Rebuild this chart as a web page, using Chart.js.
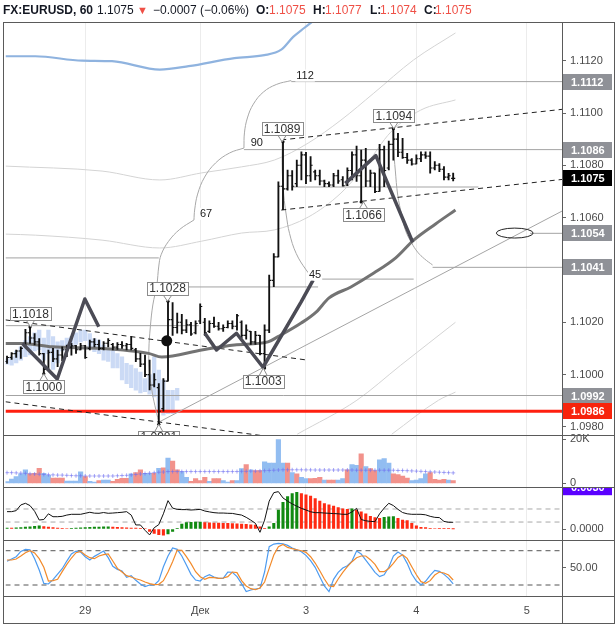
<!DOCTYPE html>
<html><head><meta charset="utf-8">
<script src="https://cdn.jsdelivr.net/npm/chart.js@4.4.1/dist/chart.umd.min.js"></script>
<style>
html,body{margin:0;padding:0;background:#fff;}
#wrap{position:relative;width:616px;height:627px;overflow:hidden;}
#c{position:absolute;left:0;top:0;}
#hdr{position:absolute;left:0;top:0;height:22px;width:616px;font:12px "Liberation Sans",Arial,sans-serif;color:#131722;}
#hdr span{position:absolute;top:3px;line-height:14px;white-space:nowrap;}
.b{font-weight:bold;}
.r{color:#ef5046;}
</style></head><body>
<div id="wrap"><canvas id="c" width="616" height="627"></canvas>
<div id="hdr">
<span class="b" style="left:3px">FX:EURUSD, 60</span>
<span style="left:97px">1.1075</span>
<span class="r" style="left:137px;font-size:11px">▼</span>
<span style="left:153px">−0.0007 (−0.06%)</span>
<span class="b" style="left:256px">O:</span><span class="r" style="left:269px">1.1075</span>
<span class="b" style="left:313px">H:</span><span class="r" style="left:325px">1.1077</span>
<span class="b" style="left:370px">L:</span><span class="r" style="left:380px">1.1074</span>
<span class="b" style="left:424px">C:</span><span class="r" style="left:435px">1.1075</span>
</div></div>
<script>
// ---------- DATA ----------
const TICK_POS = [17, 42, 65, 89, 113];
const TICK_LABELS = ['29', 'Дек', '3', '4', '5'];
const PRICE_TICKS = [1.1120, 1.1100, 1.1080, 1.1060, 1.1020, 1.1000, 1.0980];
const VOL_TICKS = [0, 20000];
const MACD_TICKS = [0];
const STOCH_TICKS = [50];

const OPEN = [1.10050,1.10065,1.10080,1.10090,1.10110,1.10160,1.10140,1.10125,1.10080,1.10025,
1.10085,1.10060,1.10075,1.10095,1.10105,1.10110,1.10095,1.10110,1.10100,1.10125,
1.10115,1.10100,1.10120,1.10115,1.10105,1.10115,1.10110,1.10115,1.10095,1.10060,
1.10040,1.10000,1.09960,1.09950,1.09870,1.09975,1.10210,1.10180,1.10200,1.10170,
1.10190,1.10160,1.10205,1.10200,1.10165,1.10195,1.10185,1.10175,1.10180,1.10195,
1.10185,1.10200,1.10150,1.10165,1.10125,1.10150,1.10080,1.10170,1.10360,1.10450,
1.10720,1.10710,1.10760,1.10730,1.10800,1.10840,1.10760,1.10775,1.10760,1.10740,
1.10730,1.10725,1.10760,1.10745,1.10725,1.10780,1.10840,1.10760,1.10820,1.10740,
1.10770,1.10700,1.10860,1.10790,1.10880,1.10900,1.10850,1.10830,1.10820,1.10805,
1.10825,1.10840,1.10835,1.10790,1.10800,1.10785,1.10755,1.10750];
const HIGH = [1.10071,1.10084,1.10094,1.10106,1.10173,1.10182,1.10157,1.10138,1.10081,1.10094,
1.10100,1.10094,1.10106,1.10113,1.10119,1.10112,1.10119,1.10112,1.10132,1.10138,
1.10132,1.10126,1.10138,1.10119,1.10122,1.10126,1.10119,1.10145,1.10100,1.10081,
1.10075,1.10055,1.10004,1.09966,1.09985,1.10280,1.10275,1.10235,1.10230,1.10210,
1.10200,1.10205,1.10270,1.10215,1.10205,1.10220,1.10200,1.10190,1.10205,1.10205,
1.10230,1.10205,1.10190,1.10165,1.10165,1.10150,1.10190,1.10380,1.10463,1.10737,
1.10890,1.10782,1.10780,1.10820,1.10852,1.10850,1.10833,1.10782,1.10782,1.10744,
1.10737,1.10769,1.10782,1.10757,1.10790,1.10852,1.10874,1.10858,1.10865,1.10782,
1.10770,1.10880,1.10874,1.10893,1.10940,1.10922,1.10903,1.10846,1.10826,1.10840,
1.10852,1.10852,1.10852,1.10814,1.10807,1.10795,1.10769,1.10770];
const LOW = [1.10043,1.10058,1.10066,1.10062,1.10106,1.10119,1.10113,1.10074,1.10003,1.10020,
1.10049,1.10030,1.10053,1.10068,1.10074,1.10081,1.10094,1.10062,1.10094,1.10106,
1.10094,1.10094,1.10106,1.10094,1.10096,1.10100,1.10094,1.10094,1.10049,1.10030,
1.09992,1.09941,1.09953,1.09810,1.09860,1.09975,1.10150,1.10158,1.10155,1.10160,
1.10150,1.10155,1.10195,1.10150,1.10160,1.10180,1.10170,1.10165,1.10178,1.10175,
1.10170,1.10140,1.10135,1.10115,1.10115,1.10075,1.10025,1.10160,1.10336,1.10450,
1.10630,1.10705,1.10705,1.10718,1.10744,1.10730,1.10738,1.10744,1.10725,1.10718,
1.10718,1.10718,1.10731,1.10720,1.10722,1.10744,1.10738,1.10660,1.10718,1.10718,
1.10695,1.10700,1.10718,1.10782,1.10820,1.10833,1.10826,1.10807,1.10801,1.10805,
1.10814,1.10826,1.10770,1.10782,1.10776,1.10744,1.10744,1.10740];
const CLOSE = [1.10065,1.10080,1.10090,1.10100,1.10160,1.10140,1.10125,1.10080,1.10020,1.10085,
1.10060,1.10075,1.10095,1.10105,1.10110,1.10095,1.10110,1.10065,1.10125,1.10115,
1.10100,1.10120,1.10130,1.10105,1.10115,1.10110,1.10115,1.10100,1.10060,1.10040,
1.10000,1.09960,1.09980,1.09860,1.09975,1.10210,1.10180,1.10200,1.10170,1.10190,
1.10155,1.10195,1.10260,1.10160,1.10195,1.10185,1.10175,1.10180,1.10195,1.10185,
1.10225,1.10150,1.10170,1.10125,1.10150,1.10080,1.10170,1.10360,1.10450,1.10720,
1.10710,1.10760,1.10720,1.10800,1.10840,1.10760,1.10800,1.10760,1.10740,1.10730,
1.10725,1.10760,1.10740,1.10722,1.10780,1.10840,1.10760,1.10820,1.10740,1.10770,
1.10700,1.10860,1.10780,1.10880,1.10900,1.10850,1.10830,1.10820,1.10805,1.10825,
1.10840,1.10835,1.10790,1.10800,1.10785,1.10755,1.10760,1.10750];

const GHOST_LOW = [1.10040,1.10036,1.10045,1.10055,1.10068,1.10075,1.10090,1.10095,1.10055,1.10080,
1.10020,1.10045,1.10090,1.10100,1.10100,1.10115,1.10125,1.10130,1.10105,1.10088,
1.10080,1.10055,1.10050,1.10025,1.10025,1.09980,1.09965,1.09950,1.09940,1.09930,
1.09935,1.09925,1.09915,1.09858,1.09845,1.09851,1.09851,1.09902];
const GHOST_HIGH = [1.10060,1.10068,1.10090,1.10106,1.10130,1.10145,1.10160,1.10170,1.10140,1.10170,
1.10145,1.10125,1.10130,1.10140,1.10145,1.10160,1.10170,1.10170,1.10157,1.10138,
1.10132,1.10113,1.10100,1.10094,1.10080,1.10068,1.10043,1.10036,1.10023,1.10010,
1.09985,1.10000,1.10068,1.10017,1.09979,1.09940,1.09940,1.09947];

const VOLUME = [730,1950,3000,4230,6050,4230,4550,6800,4550,3640,
2410,2410,2410,1050,1050,1050,5140,3000,900,590,
1200,1500,1500,900,1800,2270,2270,4230,4820,6050,
4550,4550,4550,6800,6950,11360,10000,6050,5300,2700,
900,2100,1200,2700,900,2100,2100,1200,590,1200,
1200,6650,8450,6050,5730,5730,9700,9100,9100,19700,
9100,9100,4820,4230,2700,2100,2100,2270,2700,1500,
1500,1500,1500,2100,6050,8450,8150,13300,7550,6650,
5730,10600,11200,9100,4230,3900,3300,2410,1200,1500,
2100,4230,4820,1800,1500,1800,1500,1200];
const VOL_DIR = ('uuuuuddduu' + 'ddduuuuduu' + 'duuddddudd' + 'uudududduu' + 'ddddudduud' +
  'uududduuuu' + 'ududuudddu' + 'dduuduudud' + 'duuudddduu' + 'uuddddud').split('');
const VOL_MA = [4800,4800,4700,4600,4500,4300,4200,4100,4000,3900,
3800,3700,3700,3600,3500,3400,3400,3300,3300,3300,
3300,3300,3300,3300,3400,3500,3600,3800,4000,4200,
4400,4600,4800,5000,5100,5300,5300,5300,5300,5300,
5300,5300,5300,5300,5300,5300,5300,5300,5300,5300,
5300,5400,5400,5500,5500,5600,5700,5800,5900,6000,
6100,6100,6100,6100,6100,6050,6050,6000,6000,6000,
6000,6000,6000,6000,6000,6000,5900,5900,5900,5900,
5900,5900,5900,5900,5900,5800,5800,5700,5600,5500,
5400,5300,5200,5100,5000,4900,4800,4700];

// oscillator panel, units of 0.0001
const HIST = [0.8,0.8,1.0,1.2,1.5,1.8,2.2,2.6,2.0,1.6,
1.2,0.8,0.5,0.4,0.6,0.8,1.0,1.2,1.4,1.5,
1.6,1.7,1.8,1.5,1.3,1.1,0.9,0.8,0.7,0.6,
0.4,-2.0,-3.5,-4.5,-4.8,-3.8,-2.0,0.5,3.9,5.0,
5.3,5.4,5.5,5.0,4.8,4.7,4.6,4.5,4.4,4.2,
4.0,3.8,3.6,3.3,3.0,1.8,0.5,1.8,4.5,15,
21,25.5,28,29,28,27,26,24,22,20,
19,18,17,16,15.5,16,15,13.5,12,10,
9,8.4,9.2,9.7,9.8,8.4,7.1,6.6,4.5,2.6,
1.3,1.2,0.5,0.4,0.3,0.2,0.2,0.1];
const OSC_LINE = [13.7,13.7,14.5,19.0,20.3,18.5,14.0,7.1,7.5,12.0,
9.7,9.7,10.0,11.0,11.6,11.6,11.6,12.4,13.2,12.5,
12.4,13.0,12.4,12.6,12.9,13.2,13.7,11.0,3.2,3.2,
-1.0,-4.7,1.0,3.5,12.0,22.4,16.5,15.5,15.3,15.3,
15.0,15.2,15.5,14.2,13.5,12.9,12.6,12.6,12.4,12.3,
11.6,11.0,9.2,7.0,4.5,-2.6,7.0,22.0,28.7,29.5,
24.5,22.0,19.8,18.0,16.3,15.0,13.6,12.9,12.9,12.6,
12.4,12.2,12.0,11.6,11.6,13.5,16.3,7.5,6.5,6.0,
5.8,12.0,16.5,20.3,18.5,15.5,13.0,12.0,11.6,11.6,
11.6,11.2,10.0,9.2,9.0,6.0,5.3,5.3];
const OSC_LEVELS = [15.8, 5.5];
const OSC_TAG = [33, '0.0030'];

const STOCH_K = [61.4,65.4,69.5,78.8,82.3,81.7,66.0,46.2,22.9,21.8,
29.3,39.2,48.5,61.9,74.2,79.4,77.7,69.5,63.7,70.1,
74.8,79.4,67.8,52.6,47.4,44.5,33.4,36.3,28.2,21.7,
17.1,20.0,20.0,27.6,52.0,70.7,84.7,82.3,70.7,55.0,
38.6,28.7,27.0,34.6,38.0,34.0,31.6,31.6,42.7,42.1,
34.6,22.3,8.4,11.3,13.0,14.2,42.7,87.0,91.6,92.8,
92.2,89.3,84.7,81.7,78.3,71.8,62.5,50.9,34.6,18.3,
8.4,29.9,42.1,49.7,53.8,61.9,79.4,74.2,63.7,53.2,
42.1,34.6,38.0,50.9,70.7,77.7,72.4,57.9,39.2,27.0,
20.6,26.4,36.9,45.6,43.9,38.6,31.6,21.8];
const STOCH_D = [63.7,63.7,65.4,70.7,76.5,80.0,76.0,66.0,50.9,27.0,
27.6,29.9,43.3,56.1,67.2,76.5,78.8,72.4,67.8,66.0,
70.7,73.0,74.2,62.0,49.0,42.7,36.3,34.0,31.0,28.7,
25.2,22.3,20.6,21.2,27.6,42.7,60.8,81.2,80.6,69.5,
57.3,43.3,34.6,29.9,33.4,32.8,31.6,32.2,34.6,42.7,
41.6,27.6,18.3,13.6,11.8,14.8,25.2,49.0,72.4,87.0,
91.0,85.8,83.5,81.7,80.0,77.1,69.5,58.4,45.0,30.5,
18.3,17.1,30.5,42.1,52.0,60.8,67.8,70.7,70.7,64.3,
56.1,43.3,43.3,49.0,57.9,68.3,73.0,66.6,52.0,38.0,
25.8,23.0,27.6,37.5,42.7,41.0,37.5,28.7];
const STOCH_LEVELS = [80, 20];

// drawings, in [bar index, price]
const MA_LINE = [[-0.33,1.10119],[3.35,1.10119],[9.84,1.10106],[20.66,1.10100],[30.77,1.10081],[33.65,1.10067],[42.31,1.10094],[49.45,1.10113],[56.74,1.10125],[58.91,1.10145],[63.95,1.10197],[67.2,1.10239],[70.02,1.10293],[74.77,1.10335],[79.75,1.10388],[84.51,1.10446],[88.41,1.10514],[93.17,1.10576],[97.5,1.10629]];
const BAND_BLUE = [[-0.33,1.11217],[6.16,1.11217],[16.33,1.11200],[22.83,1.11198],[33.22,1.11166],[39.49,1.11179],[49.45,1.11210],[55.94,1.11221],[59.62,1.11242],[62.22,1.11291],[64.6,1.11325],[66.55,1.11352]];
const BAND_UPPER = [[-0.33,1.10797],[20.66,1.10778],[33.22,1.10744],[42.31,1.10771],[50.96,1.10794],[58.11,1.10820],[65.47,1.10885],[72.61,1.10973],[79.75,1.11076],[88.41,1.11203],[97.5,1.11306]];
const BAND_MID = [[-0.33,1.10537],[6.16,1.10533],[20.66,1.10514],[33.22,1.10484],[42.31,1.10510],[50.96,1.10541],[58.11,1.10553],[65.47,1.10602],[72.61,1.10694],[78.02,1.10801],[83.43,1.10927],[89.93,1.11011],[97.5,1.11050]];
const BAND_LOW1 = [[63.09,1.09772],[76.07,1.09902],[85.61,1.10036],[97.5,1.10200]];
const BAND_LOW2 = [[83.65,1.09772],[93.82,1.09902],[97.5,1.09933]];
const DASHED = [
  [[-0.33,1.10209],[65.04,1.10056]],
  [[-0.33,1.09896],[55.73,1.09766]],
  [[59.62,1.10897],[120.66,1.11014]],
  [[59.62,1.10629],[120.66,1.10746]]
];
const TREND = [[33.0,1.09818],[120.66,1.10625]];
const ZIGZAGS = [
  [[3.35,1.10119],[10.92,1.09983],[16.92,1.10289],[19.95,1.10183]],
  [[43.02,1.10158],[45.55,1.10094],[49.88,1.10158],[55.66,1.10028],[63.95,1.10278],[66.55,1.10361]],
  [[73.54,1.10731],[80.19,1.10837],[88.2,1.10506]]
];
const ARCS = [
  [[61.79,1.11124],[58.54,1.11109],[55.73,1.11080],[53.56,1.11034],[52.26,1.10981],[51.62,1.10924],[51.51,1.10866]],
  [[51.51,1.10866],[48.37,1.10847],[45.34,1.10809],[42.96,1.10755],[41.44,1.10690],[40.79,1.10629],[40.64,1.10591]],
  [[40.64,1.10591],[37.55,1.10555],[35.1,1.10509],[33.5,1.10458],[33.0,1.10415],[32.57,1.10342],[31.7,1.10266],[31.16,1.10182],[30.84,1.10094],[30.94,1.10017],[31.48,1.09941],[32.13,1.09883],[33.0,1.09818]],
  [[59.84,1.10893],[59.84,1.10782],[60.17,1.10686],[60.71,1.10610],[61.42,1.10540],[62.87,1.10463],[65.04,1.10400],[66.77,1.10365]],
  [[83.87,1.10943],[84.08,1.10859],[84.41,1.10782],[84.95,1.10686],[85.81,1.10610],[86.68,1.10549],[87.98,1.10503],[89.28,1.10468],[90.79,1.10442],[92.52,1.10419]]
];
const LEVELS = [[61.79,120.66,1.1112],[51.51,120.66,1.1086],[-0.33,33.0,1.10446],[-0.33,41.66,1.10187],
  [32.57,67.63,1.10335],[68.29,88.41,1.10365],[92.52,120.66,1.1041],[113.7,120.66,1.1054],[-0.33,120.66,1.0992]];
const LIGHT_LEVELS = [[61.79,102.5,1.10717]];
const RED_LEVEL = [-0.33,120.66,1.0986];
const PIVOTS = [[5,1.10182],[8,1.10003],[33,1.0981],[35,1.1028],[56,1.10025],[60,1.1089],[77,1.1066],[84,1.1094]];
const BIG_DOT = [[34.73,1.10129]];
const NOTES = [['1.1018',5.1,1.10182,-1],['1.1000',8.0,1.10003,1],['1.0981',33.0,1.0981,1],['1.1028',34.9,1.1028,-1],
  ['1.1003',55.7,1.10025,1],['1.1089',59.8,1.1089,-1],['1.1066',77.5,1.1066,1],['1.1094',84.1,1.1094,-1]];
const FIB_TEXT = [['112',64.8,1.11143],['90',54.3,1.10889],['67',43.28,1.10615],['45',66.98,1.10382]];
const ELLIPSE = [110.38, 1.10541, 4.0, 0.00019];
const PRICE_TAGS = [[1.1112,'g'],[1.1086,'g'],[1.1054,'g'],[1.1041,'g'],[1.0992,'g'],[1.0986,'r'],[1.1075,'k']];

// ---------- CHART ----------
const FONT = '"Liberation Sans", Arial, sans-serif';
Chart.defaults.font.family = FONT;
Chart.defaults.font.size = 11;
Chart.defaults.color = '#4a4a4a';

const X_MIN = -0.33, X_MAX = 120.66;
const IDX = CLOSE.map((_, i) => i);
const P = a => a.map(p => ({x: p[0], y: p[1]}));
function line(points, color, width, order, extra) {
  return Object.assign({type: 'line', data: P(points), borderColor: color, backgroundColor: color,
    borderWidth: width, pointRadius: 0, pointHoverRadius: 0, fill: false, tension: 0, order: order,
    xAxisID: 'x', yAxisID: 'y'}, extra || {});
}
const series = (arr, axis, color, width, order, extra) => Object.assign({type: 'line',
  data: arr.map((v, i) => ({x: i, y: v})), borderColor: color, borderWidth: width, pointRadius: 0,
  fill: false, tension: 0, order: order, xAxisID: 'x', yAxisID: axis}, extra || {});

const datasets = [];
ZIGZAGS.forEach(z => datasets.push(line(z, '#4b4b55', 3.5, 1, {borderJoinStyle: 'round'})));
datasets.push(line(BIG_DOT, '#111', 0, 2, {showLine: false, pointRadius: 5.5, pointBackgroundColor: '#111', pointBorderWidth: 0}));
datasets.push(line(PIVOTS, '#111', 0, 2, {showLine: false, pointRadius: 1.6, pointBackgroundColor: '#111', pointBorderWidth: 0}));
datasets.push({type: 'bar', data: IDX.map(i => ({x: i, y: [LOW[i], HIGH[i]]})), backgroundColor: '#111',
  barThickness: 1.2, grouped: false, order: 3, clip: 0, xAxisID: 'x', yAxisID: 'y'});
datasets.push({type: 'line', data: IDX.map(i => ({x: i - 0.22, y: OPEN[i]})), showLine: false, pointStyle: 'line',
  pointRadius: 1.05, pointBorderWidth: 1.1, pointBorderColor: '#111', order: 3, xAxisID: 'x', yAxisID: 'y'});
datasets.push({type: 'line', data: IDX.map(i => ({x: i + 0.22, y: CLOSE[i]})), showLine: false, pointStyle: 'line',
  pointRadius: 1.05, pointBorderWidth: 1.1, pointBorderColor: '#111', order: 3, xAxisID: 'x', yAxisID: 'y'});
datasets.push(line(MA_LINE, '#737373', 3, 4, {cubicInterpolationMode: 'monotone'}));
DASHED.forEach(d => datasets.push(line(d, '#222', 1, 5, {borderDash: [5, 4]})));
datasets.push(line(TREND, '#a5a5a5', 1, 6));
ARCS.forEach(a => datasets.push(line(a, '#a8a8a8', 1, 6, {tension: 0.4})));
LEVELS.forEach(l => datasets.push(line([[l[0], l[2]], [l[1], l[2]]], '#a3a3a3', 1, 7)));
LIGHT_LEVELS.forEach(l => datasets.push(line([[l[0], l[2]], [l[1], l[2]]], '#d2d2d2', 2, 7)));
datasets.push(line([[RED_LEVEL[0], RED_LEVEL[2]], [RED_LEVEL[1], RED_LEVEL[2]]], '#ff1f0f', 3, 7));
[BAND_UPPER, BAND_MID, BAND_LOW1, BAND_LOW2].forEach(b => datasets.push(line(b, '#d4d4d4', 1, 8, {cubicInterpolationMode: 'monotone'})));
datasets.push(line(BAND_BLUE, '#8fb3df', 2.2, 8, {cubicInterpolationMode: 'monotone'}));
datasets.push({type: 'bar', data: GHOST_LOW.map((v, i) => ({x: i, y: [v, GHOST_HIGH[i]]})), backgroundColor: '#cbdaf5',
  barThickness: 3.6, grouped: false, order: 9, clip: 0, xAxisID: 'x', yAxisID: 'y'});

// volume
datasets.push({type: 'bar', data: IDX.map(i => ({x: i, y: VOLUME[i]})),
  backgroundColor: c => VOL_DIR[c.dataIndex] === 'u' ? '#92bdf1' : '#f2928b',
  barThickness: 4.5, grouped: false, order: 5, clip: 0, xAxisID: 'x', yAxisID: 'yv'});
datasets.push(series(VOL_MA, 'yv', 'rgba(110,110,240,0.6)', 1, 1, {showLine: false, pointStyle: 'cross', pointRadius: 2, pointBorderWidth: 1}));

// oscillator
datasets.push({type: 'bar', data: IDX.map(i => ({x: i, y: HIST[i]})),
  backgroundColor: c => { const i = c.dataIndex; return (i === 0 || HIST[i] > HIST[i - 1]) ? '#118a11' : '#ff2a12'; },
  barThickness: 2.4, grouped: false, order: 5, clip: 0, xAxisID: 'x', yAxisID: 'ym'});
datasets.push(series(OSC_LINE, 'ym', '#111', 1, 1));
OSC_LEVELS.forEach(v => datasets.push(Object.assign(line([[X_MIN, v], [X_MAX, v]], '#a8a8a8', 1, 6, {borderDash: [5, 4]}), {yAxisID: 'ym'})));

// stochastic
datasets.push(series(STOCH_K, 'ys', '#4d9bf0', 1.2, 2));
datasets.push(series(STOCH_D, 'ys', '#f28a2a', 1.2, 1));
STOCH_LEVELS.forEach(v => datasets.push(Object.assign(line([[X_MIN, v], [X_MAX, v]], '#555', 1, 6, {borderDash: [5, 4]}), {yAxisID: 'ys'})));

const TAG_COLORS = {g: '#8f9197', r: '#f7230c', k: '#000000'};

const notesPlugin = {
  id: 'notes',
  afterDatasetsDraw(chart) {
    const {ctx, scales: {x, y}} = chart;
    ctx.save();
    ctx.beginPath(); ctx.rect(x.left, y.top, x.right - x.left, y.bottom - y.top); ctx.clip();
    const ex = x.getPixelForValue(ELLIPSE[0]), ey = y.getPixelForValue(ELLIPSE[1]);
    const rx = Math.abs(x.getPixelForValue(ELLIPSE[0] + ELLIPSE[2]) - ex);
    const ry = Math.abs(y.getPixelForValue(ELLIPSE[1] + ELLIPSE[3]) - ey);
    ctx.beginPath(); ctx.ellipse(ex, ey, rx, ry, 0, 0, Math.PI * 2);
    ctx.strokeStyle = '#222'; ctx.lineWidth = 1; ctx.stroke();
    ctx.textAlign = 'center'; ctx.textBaseline = 'middle';
    ctx.font = '11px ' + FONT;
    FIB_TEXT.forEach(([t, i, p]) => {
      const px = x.getPixelForValue(i), py = y.getPixelForValue(p);
      const w = ctx.measureText(t).width;
      ctx.fillStyle = '#fff'; ctx.fillRect(px - w / 2 - 1, py - 6, w + 2, 12);
      ctx.fillStyle = '#222'; ctx.fillText(t, px, py + 0.5);
    });
    ctx.font = '12px ' + FONT;
    NOTES.forEach(([t, i, p, dir]) => {
      const ax = x.getPixelForValue(i), ay = y.getPixelForValue(p);
      const w = 41, h = 13;
      const cy = ay + dir * 13, top = Math.round(cy - h / 2) + 0.5, left = Math.round(ax - w / 2) + 0.5;
      const edge = dir < 0 ? top + h : top;
      ctx.strokeStyle = '#8c8c8c'; ctx.lineWidth = 1;
      ctx.fillStyle = '#fff';
      ctx.beginPath(); ctx.moveTo(ax - 4, edge); ctx.lineTo(ax, ay); ctx.lineTo(ax + 4, edge); ctx.closePath();
      ctx.fill(); ctx.stroke();
      ctx.fillRect(left, top, w, h); ctx.strokeRect(left, top, w, h);
      ctx.fillStyle = '#333'; ctx.fillText(t, ax, cy + 0.5);
    });
    ctx.restore();
  }
};

const tagsFramePlugin = {
  id: 'tagsFrame',
  afterDraw(chart) {
    const {ctx, chartArea: a, scales: s} = chart;
    const x0 = Math.round(a.right) + 1, x1 = 612;
    ctx.save();
    ctx.font = 'bold 11px ' + FONT;
    ctx.textBaseline = 'middle'; ctx.textAlign = 'left';
    PRICE_TAGS.forEach(([v, kind]) => {
      const py = Math.round(s.y.getPixelForValue(v));
      ctx.fillStyle = TAG_COLORS[kind];
      ctx.fillRect(x0, py - 8, x1 - x0, 16);
      ctx.fillStyle = '#fff';
      ctx.fillText(v.toFixed(4), x0 + 8, py + 0.5);
    });
    ctx.save();
    ctx.beginPath(); ctx.rect(x0, s.ym.top, x1 - x0, s.ym.bottom - s.ym.top); ctx.clip();
    const my = s.ym.getPixelForValue(OSC_TAG[0]);
    ctx.fillStyle = '#5a00ff'; ctx.fillRect(x0, my - 8, x1 - x0, 16);
    ctx.fillStyle = '#fff'; ctx.fillText(OSC_TAG[1], x0 + 8, my + 0.5);
    ctx.restore();
    ctx.strokeStyle = '#5a5a5a'; ctx.lineWidth = 1;
    const L = 3.5, R = 614.5, T = 22.5, B = 623.5;
    ctx.strokeRect(L, T, R - L, B - T);
    ctx.beginPath();
    const xr = Math.round(a.right) + 0.5;
    ctx.moveTo(xr, T); ctx.lineTo(xr, B);
    [s.y.bottom, s.yv.bottom, s.ym.bottom, s.ys.bottom].forEach(v => {
      const yy = Math.round(v) + 0.5; ctx.moveTo(L, yy); ctx.lineTo(R, yy);
    });
    ctx.stroke();
    ctx.restore();
  }
};

function yAxis(weight, min, max, ticks, fmt) {
  return {
    type: 'linear', position: 'right', stack: 'panes', stackWeight: weight, min: min, max: max,
    afterFit: sc => { sc.width = 52; },
    afterBuildTicks: sc => { sc.ticks = ticks.map(v => ({value: v})); },
    ticks: {autoSkip: false, padding: 4, color: '#4a4a4a', font: {size: 11}, callback: fmt},
    grid: {drawOnChartArea: false, drawTicks: true, tickLength: 4, color: '#666'},
    border: {display: false}
  };
}

new Chart(document.getElementById('c'), {
  type: 'line',
  data: {datasets: datasets},
  options: {
    responsive: false, animation: false, events: [],
    layout: {padding: {left: 3, top: 22.5, right: 2, bottom: 0}},
    plugins: {legend: {display: false}, tooltip: {enabled: false}},
    scales: {
      x: {
        type: 'linear', position: 'bottom', min: X_MIN, max: X_MAX, offset: false,
        afterFit: sc => { sc.height = 31; },
        afterBuildTicks: sc => { sc.ticks = TICK_POS.map(v => ({value: v})); },
        ticks: {autoSkip: false, maxRotation: 0, padding: 8, color: '#4a4a4a', font: {size: 11},
          callback: (v, i) => TICK_LABELS[i]},
        grid: {color: '#ececec', drawTicks: false, offset: false},
        border: {display: false}
      },
      y: yAxis(412.5, 1.09769, 1.11346, PRICE_TICKS, v => v.toFixed(4)),
      yv: yAxis(52, -1670, 21806, VOL_TICKS, v => v === 0 ? '0' : (v / 1000) + 'K'),
      ym: yAxis(52.5, -8.29, 33.16, MACD_TICKS, v => (v / 10000).toFixed(4)),
      ys: yAxis(56.5, 0.76, 99.6, STOCH_TICKS, v => v.toFixed(2))
    }
  },
  plugins: [notesPlugin, tagsFramePlugin]
});
</script>
</body></html>
